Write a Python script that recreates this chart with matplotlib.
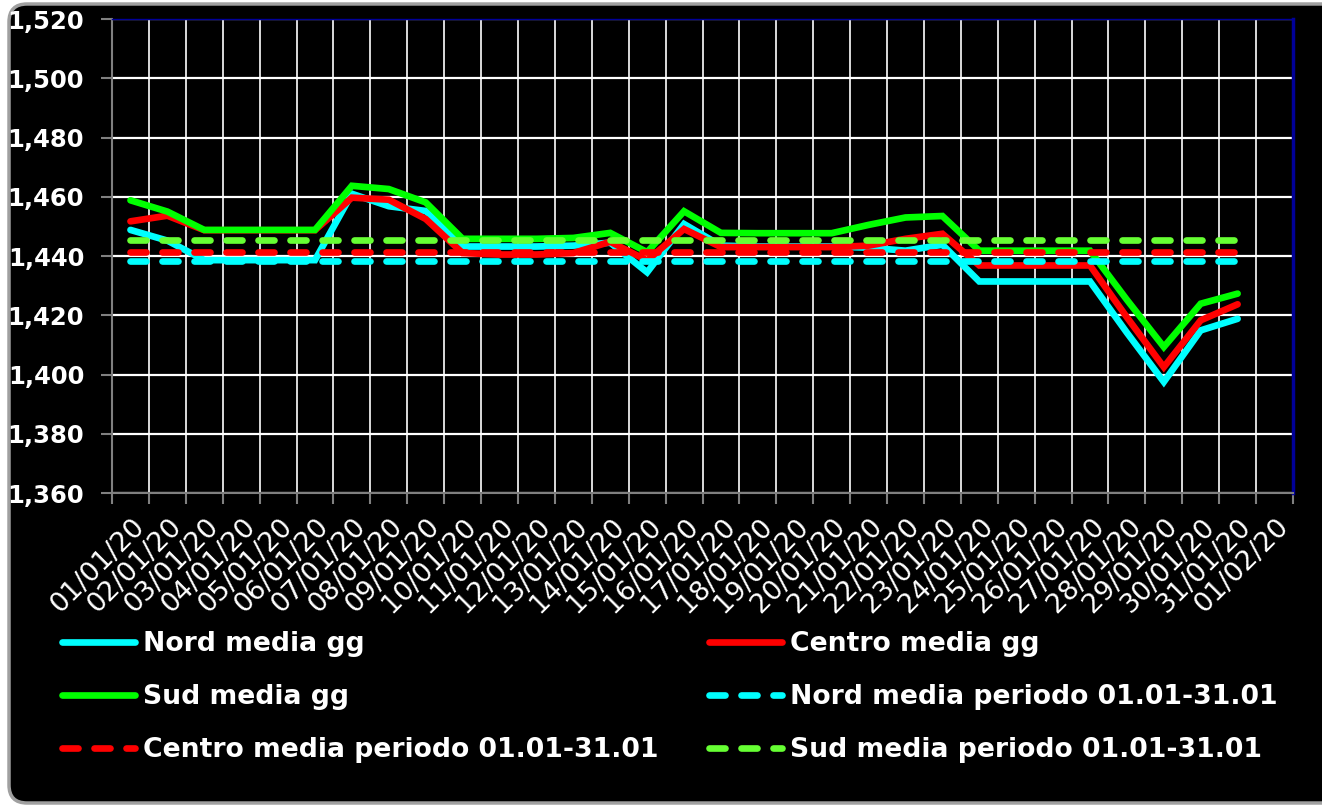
from matplotlib import pyplot as plt
from matplotlib.patches import FancyBboxPatch
import matplotlib.transforms as mtransforms
import numpy as np

date_labels = ["01/01/20", "02/01/20", "03/01/20", "04/01/20", "05/01/20", "06/01/20",
               "07/01/20", "08/01/20", "09/01/20", "10/01/20", "11/01/20", "12/01/20",
               "13/01/20", "14/01/20", "15/01/20", "16/01/20", "17/01/20", "18/01/20",
               "19/01/20", "20/01/20", "21/01/20", "22/01/20", "23/01/20", "24/01/20",
               "25/01/20", "26/01/20", "27/01/20", "28/01/20", "29/01/20", "30/01/20",
               "31/01/20", "01/02/20"]

nord_gg = [1.4488, 1.4452, 1.4386, 1.4386, 1.4386, 1.4386, 1.4610, 1.4568, 1.4552, 1.4432,
           1.4432, 1.4432, 1.4435, 1.4445, 1.4345, 1.4508, 1.4435, 1.4432, 1.4432, 1.4432,
           1.4428, 1.4418, 1.4438, 1.4314, 1.4314, 1.4314, 1.4314, 1.4141, 1.3975, 1.4149,
           1.4188]
centro_gg = [1.4517, 1.4536, 1.4487, 1.4487, 1.4487, 1.4487, 1.4597, 1.4590, 1.4525, 1.4410,
             1.4405, 1.4405, 1.4410, 1.4448, 1.4385, 1.4491, 1.4430, 1.4430, 1.4430, 1.4430,
             1.4435, 1.4458, 1.4475, 1.4368, 1.4368, 1.4368, 1.4368, 1.4193, 1.4025, 1.4183,
             1.4237]
sud_gg = [1.4588, 1.4550, 1.4488, 1.4488, 1.4488, 1.4488, 1.4637, 1.4626, 1.4581, 1.4458,
          1.4458, 1.4458, 1.4461, 1.4478, 1.4413, 1.4551, 1.4478, 1.4477, 1.4477, 1.4477,
          1.4505, 1.4530, 1.4535, 1.4418, 1.4418, 1.4418, 1.4418, 1.4252, 1.4093, 1.4239,
          1.4273]

nord_periodo = 1.4384
centro_periodo = 1.4414
sud_periodo = 1.4455

y_ticks = [1.36, 1.38, 1.40, 1.42, 1.44, 1.46, 1.48, 1.50, 1.52]
y_tick_labels = ["1,360", "1,380", "1,400", "1,420", "1,440", "1,460", "1,480", "1,500", "1,520"]

series = [
    ("Nord media gg", nord_gg, "#00ffff"),
    ("Centro media gg", centro_gg, "#ff0000"),
    ("Sud media gg", sud_gg, "#00ff00"),
]
means = [
    ("Nord media periodo 01.01-31.01", nord_periodo, "#00ffff"),
    ("Centro media periodo 01.01-31.01", centro_periodo, "#ff0000"),
    ("Sud media periodo 01.01-31.01", sud_periodo, "#66ff33"),
]


def main():
    W, H = 1322, 806
    fig = plt.figure(figsize=(W / 100, H / 100), dpi=100, facecolor="white")

    # rounded black chart area
    box = FancyBboxPatch((9, 3), 1360, 799, boxstyle="round,pad=0,rounding_size=18",
                         facecolor="black", edgecolor="#a0a0a0", linewidth=2.5,
                         transform=mtransforms.IdentityTransform(), zorder=-1)
    fig.patches.append(box)

    ax = fig.add_axes([112 / W, 1 - 493 / H, (1293 - 112) / W, (493 - 19) / H])
    ax.set_facecolor("black")

    x = np.arange(len(nord_gg))
    handles = {}
    for name, vals, col in series:
        (ln,) = ax.plot(x, vals, color=col, lw=4.8, solid_capstyle="round",
                        solid_joinstyle="miter", label=name, zorder=3)
        handles[name] = ln
    for name, val, col in means:
        (ln,) = ax.plot(x, [val] * len(x), color=col, lw=4.8, dashes=(2.4, 2.4),
                        dash_capstyle="round", label=name, zorder=4)
        handles[name] = ln

    ax.set_xlim(-0.5, len(date_labels) - 0.5)
    ax.set_ylim(1.36, 1.52)

    ax.set_yticks(y_ticks)
    ax.set_yticklabels(y_tick_labels, fontsize=17.5, fontweight="bold", color="white")
    ax.tick_params(axis="y", length=8, width=1.5, color="#808080", pad=12)

    ax.set_xticks(np.arange(len(date_labels)))
    ax.set_xticklabels(date_labels, rotation=45, ha="right", va="top",
                       rotation_mode="anchor", fontsize=19.5, color="white")
    ax.tick_params(axis="x", which="major", length=0, pad=15)
    ax.set_xticks(np.arange(len(date_labels) + 1) - 0.5, minor=True)
    ax.tick_params(axis="x", which="minor", length=8, width=1.5, color="#808080")
    offset = mtransforms.ScaledTranslation(1 / 100, 0, fig.dpi_scale_trans)
    for lbl in ax.get_xticklabels():
        lbl.set_transform(lbl.get_transform() + offset)

    ax.grid(axis="y", which="major", color="white", lw=1.6, zorder=1)
    ax.grid(axis="x", which="minor", color="white", lw=1.2, zorder=1)
    ax.set_axisbelow(True)

    ax.spines["left"].set_color("#808080")
    ax.spines["left"].set_linewidth(1.5)
    ax.spines["bottom"].set_color("#808080")
    ax.spines["bottom"].set_linewidth(1.5)
    ax.spines["right"].set_color("#000099")
    ax.spines["right"].set_linewidth(2.5)
    ax.spines["top"].set_color("#000099")
    ax.spines["top"].set_linewidth(1)

    order = ["Nord media gg", "Sud media gg", "Centro media periodo 01.01-31.01",
             "Centro media gg", "Nord media periodo 01.01-31.01",
             "Sud media periodo 01.01-31.01"]
    leg = fig.legend([handles[n] for n in order], order, ncol=2, loc="upper left",
                     bbox_to_anchor=(62 / W, 1 - 631 / H), frameon=False,
                     prop={"size": 19.2, "weight": "bold"}, handlelength=2.75,
                     handletextpad=0.28, labelspacing=1.02, columnspacing=1.9,
                     borderpad=0, borderaxespad=0)
    for t in leg.get_texts():
        t.set_color("white")

    fig.savefig("out.png", dpi=100, facecolor="white")


if __name__ == "__main__":
    main()
